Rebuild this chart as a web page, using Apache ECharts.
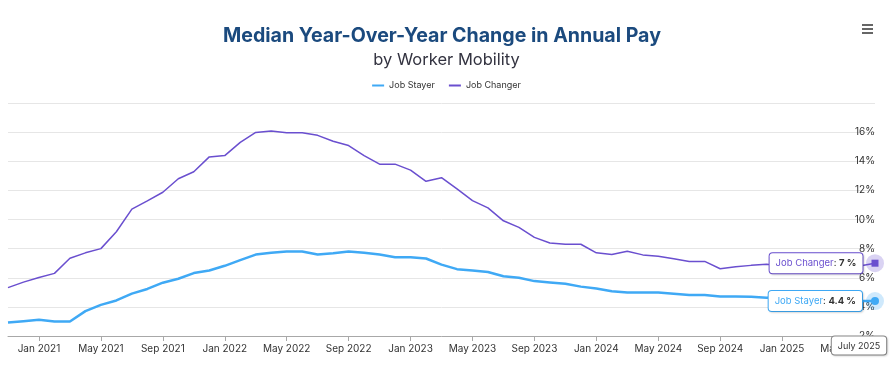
<!DOCTYPE html>
<html>
<head>
<meta charset="utf-8">
<script src="https://cdn.jsdelivr.net/npm/echarts@6/dist/echarts.min.js"></script>
<style>
html,body{margin:0;padding:0;background:#fff;}
#chart{width:893px;height:365px;}
</style>
</head>
<body>
<div id="chart"></div>
<script>
const categories = [
  'Nov 2020','Dec 2020',
  'Jan 2021','Feb 2021','Mar 2021','Apr 2021','May 2021','Jun 2021','Jul 2021','Aug 2021','Sep 2021','Oct 2021','Nov 2021','Dec 2021',
  'Jan 2022','Feb 2022','Mar 2022','Apr 2022','May 2022','Jun 2022','Jul 2022','Aug 2022','Sep 2022','Oct 2022','Nov 2022','Dec 2022',
  'Jan 2023','Feb 2023','Mar 2023','Apr 2023','May 2023','Jun 2023','Jul 2023','Aug 2023','Sep 2023','Oct 2023','Nov 2023','Dec 2023',
  'Jan 2024','Feb 2024','Mar 2024','Apr 2024','May 2024','Jun 2024','Jul 2024','Aug 2024','Sep 2024','Oct 2024','Nov 2024','Dec 2024',
  'Jan 2025','Feb 2025','Mar 2025','Apr 2025','May 2025','Jun 2025','Jul 2025'
];
const jobStayer = [2.93,3.02,3.11,3.00,3.00,3.71,4.14,4.44,4.91,5.23,5.66,5.93,6.32,6.50,6.82,7.21,7.59,7.71,7.80,7.80,7.59,7.68,7.80,7.71,7.59,7.41,7.41,7.32,6.90,6.59,6.49,6.39,6.10,6.00,5.77,5.68,5.59,5.39,5.26,5.08,4.98,4.98,4.98,4.90,4.81,4.81,4.71,4.72,4.70,4.62,4.7,4.7,4.6,4.5,4.5,4.4,4.4];
const jobChanger = [5.32,5.70,6.02,6.30,7.34,7.71,8.00,9.16,10.71,11.28,11.87,12.80,13.28,14.30,14.39,15.30,15.98,16.07,15.96,15.95,15.78,15.37,15.08,14.39,13.80,13.80,13.39,12.62,12.87,12.10,11.30,10.80,9.91,9.46,8.77,8.39,8.30,8.30,7.71,7.59,7.82,7.57,7.48,7.30,7.12,7.12,6.62,6.75,6.85,6.93,6.8,6.7,6.5,7.0,7.0,6.8,7.0];
const yTicks = {min: 2, max: 18, interval: 2};
const hoverDateLabel = 'July 2025';
const seriesNames = ['Job Stayer', 'Job Changer'];

const stayerColor = '#3fa9f5';
const changerColor = '#6a4fcf';
const FONT = 'Inter, "Noto Sans", sans-serif';
const last = categories.length - 1;
const showTick = (idx) => (idx - 2) % 4 === 0;

const chart = echarts.init(document.getElementById('chart'), null, {renderer: 'canvas'});

function tipLabel(name, val, color) {
  return {
    show: true,
    position: 'left',
    distance: 9,
    opacity: 1,
    formatter: '{n|' + name + '}{s|: }{b|' + val + ' %}',
    backgroundColor: '#ffffff',
    borderColor: color,
    borderWidth: 1,
    borderRadius: 3,
    padding: [5, 6, 5, 6],
    shadowColor: 'rgba(0,0,0,0.12)',
    shadowBlur: 2,
    shadowOffsetX: 1,
    shadowOffsetY: 1,
    rich: {
      n: {color: color, fontSize: 9.5, fontFamily: FONT},
      s: {color: '#333', fontSize: 9.5, fontFamily: FONT},
      b: {color: '#333', fontSize: 9.5, fontWeight: 'bold', fontFamily: FONT}
    }
  };
}

chart.setOption({
  animation: false,
  backgroundColor: '#ffffff',
  title: [
    {text: 'Median Year-Over-Year Change in Annual Pay', left: 218, top: 21,
     textStyle: {fontFamily: FONT, fontSize: 19.6, fontWeight: 'bold', color: '#1b4a7e'}},
    {text: 'by Worker Mobility', left: 'center', top: 47,
     textStyle: {fontFamily: FONT, fontSize: 16.5, fontWeight: 'normal', color: '#333340'}}
  ],
  legend: {
    data: seriesNames,
    top: 76,
    left: 'center',
    icon: 'rect',
    itemWidth: 12,
    itemHeight: 2,
    itemGap: 14,
    itemStyle: {opacity: 1},
    textStyle: {fontFamily: FONT, fontSize: 9, color: '#333'}
  },
  graphic: [
    {type: 'group', right: 20, top: 24, children: [
      {type: 'rect', shape: {x: 0, y: 0, width: 11, height: 2}, style: {fill: '#666'}},
      {type: 'rect', shape: {x: 0, y: 4, width: 11, height: 2}, style: {fill: '#666'}},
      {type: 'rect', shape: {x: 0, y: 8, width: 11, height: 2}, style: {fill: '#666'}}
    ]}
  ],
  grid: {left: 8, right: 18, top: 103, bottom: 29},
  xAxis: {
    type: 'category',
    data: categories,
    boundaryGap: false,
    axisLine: {lineStyle: {color: '#a8a8a8', width: 1}},
    axisTick: {show: true, interval: showTick, length: 5, lineStyle: {color: '#a8a8a8'}},
    axisLabel: {interval: showTick, color: '#333', fontSize: 10, fontFamily: FONT, margin: 8},
    splitLine: {show: false}
  },
  yAxis: {
    type: 'value',
    position: 'right',
    min: yTicks.min,
    max: yTicks.max,
    interval: yTicks.interval,
    axisLine: {show: false},
    axisTick: {show: false},
    axisLabel: {
      inside: true, margin: 0, showMaxLabel: false,
      formatter: '{value}%', color: '#333', fontSize: 10, fontFamily: FONT,
      verticalAlign: 'middle', padding: [0, 0, 9, 0]
    },
    splitLine: {lineStyle: {color: '#e6e6e6', width: 1}}
  },
  series: [
    {name: seriesNames[0], type: 'line', data: jobStayer, showSymbol: false, symbol: 'none',
     lineStyle: {color: stayerColor, width: 2.5}, itemStyle: {color: stayerColor}, z: 3},
    {name: seriesNames[1], type: 'line', data: jobChanger, showSymbol: false, symbol: 'none',
     lineStyle: {color: changerColor, width: 1.5}, itemStyle: {color: changerColor}, z: 3},
    // hover halos
    {type: 'scatter', silent: true, symbol: 'circle', symbolSize: 18, z: 4,
     data: [[last, jobStayer[last]]], itemStyle: {color: stayerColor, opacity: 0.25}},
    {type: 'scatter', silent: true, symbol: 'circle', symbolSize: 18, z: 4,
     data: [[last, jobChanger[last]]], itemStyle: {color: changerColor, opacity: 0.25}},
    // hover markers with split tooltip labels
    {type: 'scatter', silent: true, symbol: 'circle', symbolSize: 8, z: 10,
     data: [[last, jobStayer[last]]], itemStyle: {color: stayerColor, opacity: 1},
     label: tipLabel(seriesNames[0], jobStayer[last], stayerColor)},
    {type: 'scatter', silent: true, symbol: 'rect', symbolSize: 7, z: 10,
     data: [[last, jobChanger[last]]], itemStyle: {color: changerColor, opacity: 1},
     label: tipLabel(seriesNames[1], jobChanger[last], changerColor)},
    // date header label at axis
    {type: 'scatter', silent: true, symbol: 'circle', symbolSize: 1, z: 11, clip: false,
     data: [[last, yTicks.min]], itemStyle: {color: 'rgba(0,0,0,0)', opacity: 1},
     label: {show: true, position: 'bottom', distance: 0, offset: [-16, 0],
       formatter: hoverDateLabel, backgroundColor: '#ffffff', borderColor: '#888', borderWidth: 1,
       borderRadius: 3, padding: [5, 6, 4, 6], color: '#333', fontSize: 9, fontFamily: FONT,
       shadowColor: 'rgba(0,0,0,0.12)', shadowBlur: 2, shadowOffsetX: 1, shadowOffsetY: 1}}
  ]
});
</script>
</body>
</html>
